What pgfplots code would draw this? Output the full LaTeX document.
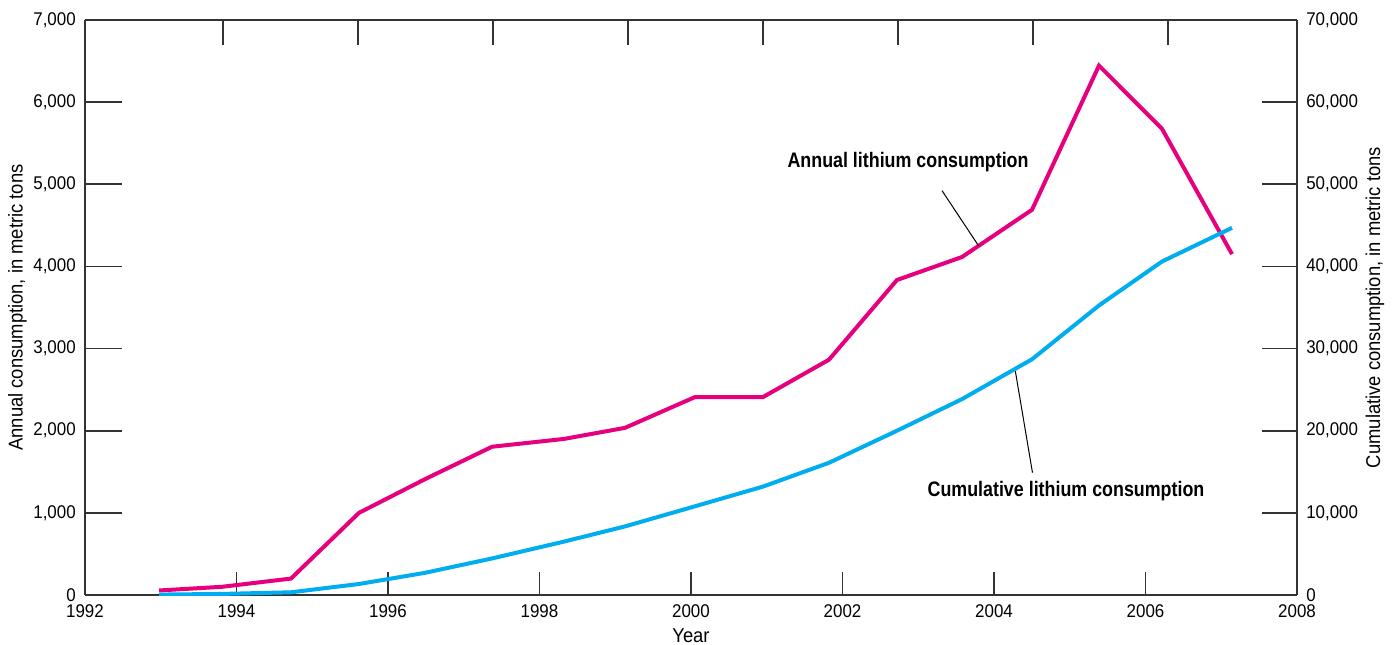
\documentclass[border=0pt]{standalone}
\usepackage{fontspec}
\setmainfont{Liberation Sans}
\newfontfamily\labfont[FakeStretch=0.92]{Liberation Sans}
\newfontfamily\annfont[FakeStretch=0.85]{Liberation Sans}
\newfontfamily\tickfont[FakeStretch=0.92]{Liberation Sans}
\usepackage{pgfplots}
\usepackage{pgfplotstable}
\pgfplotsset{compat=1.18}
\usetikzlibrary{calc}
\definecolor{pinkline}{HTML}{E6007E}
\definecolor{blueline}{HTML}{00AEEF}
\definecolor{axisgray}{HTML}{333333}

\pgfplotstableread{
year annual cumul
1992.977 55 50
1993.809 100 130
1994.719 200 330
1995.617 1000 1340
1996.488 1410 2700
1997.373 1805 4450
1998.323 1900 6500
1999.129 2035 8350
2000.053 2410 10800
2000.951 2410 13200
2001.822 2865 16100
2002.719 3835 20000
2003.578 4115 23850
2004.502 4690 28700
2005.386 6445 35250
2006.218 5675 40600
2007.142 4150 44700
}\datatable

\begin{document}
\begin{tikzpicture}
\begin{axis}[name=ax, scale only axis, width=606pt, height=287.5pt,
  xmin=1992, xmax=2008, ymin=0, ymax=7000,
  axis x line*=bottom, axis y line*=left,
  xtick={1992,1994,...,2008}, ytick={0,1000,...,7000},
  tick align=inside,
  xtick style={/pgfplots/major tick length=11.5pt, line width=0.8pt, color=axisgray},
  ytick style={/pgfplots/major tick length=18.5pt, line width=0.8pt, color=axisgray},
  axis line style={line width=1pt, color=axisgray},
  /pgf/number format/assume math mode=true,
  tick label style={font=\tickfont\fontsize{9.2}{11}\selectfont},
  yticklabel style={/pgf/number format/1000 sep={,}, xshift=-1.1pt},
  xticklabel style={/pgf/number format/1000 sep={}, yshift=-1.3pt},
  scaled y ticks=false,
  xlabel={Year},
  xlabel style={at={(axis description cs:0.5,-0.0704)}, anchor=center, font=\labfont\fontsize{10}{12}\selectfont},
  ylabel={Annual consumption, in metric tons},
  ylabel style={at={(axis description cs:-0.0557,0.5)}, anchor=center, font=\labfont\fontsize{10}{12}\selectfont},
]
\addplot[pinkline, line width=2pt] table[x=year, y=annual] {\datatable};
\node[font=\annfont\bfseries\fontsize{10.5}{12}\selectfont, anchor=center] at (axis cs:2002.865,5271) {Annual lithium consumption};
\draw[black, line width=0.5pt] (axis cs:2003.314,4922) -- (axis cs:2003.798,4249);
\node[font=\annfont\bfseries\fontsize{10.5}{12}\selectfont, anchor=center] at (axis cs:2004.95,1266) {Cumulative lithium consumption};
\draw[black, line width=0.5pt] (axis cs:2004.277,2751) -- (axis cs:2004.508,1489);
\end{axis}
\begin{axis}[scale only axis, width=606pt, height=287.5pt,
  xmin=1992, xmax=2008, ymin=0, ymax=70000,
  axis x line*=top, axis y line*=right,
  xtick={1993.822,1995.604,1997.386,1999.168,2000.950,2002.733,2004.515,2006.297},
  xticklabels={},
  ytick={0,10000,...,70000},
  tick align=inside,
  xtick style={/pgfplots/major tick length=12.5pt, line width=0.8pt, color=axisgray},
  ytick style={/pgfplots/major tick length=17.5pt, line width=0.8pt, color=axisgray},
  axis line style={line width=1pt, color=axisgray},
  /pgf/number format/assume math mode=true,
  tick label style={font=\tickfont\fontsize{9.2}{11}\selectfont},
  yticklabel style={/pgf/number format/1000 sep={,}, xshift=1.1pt},
  scaled y ticks=false,
  ylabel={Cumulative consumption, in metric tons},
  ylabel style={at={(axis description cs:1.0644,0.5)}, anchor=center, rotate=0, font=\labfont\fontsize{10}{12}\selectfont},
]
\addplot[blueline, line width=2pt] table[x=year, y=cumul] {\datatable};
\end{axis}
\pgfresetboundingbox
\path[use as bounding box] ($(ax.south west)+(-42.5pt,-24.5pt)$) rectangle ($(ax.south west)+(655.5pt,297.5pt)$);
\end{tikzpicture}
\end{document}
